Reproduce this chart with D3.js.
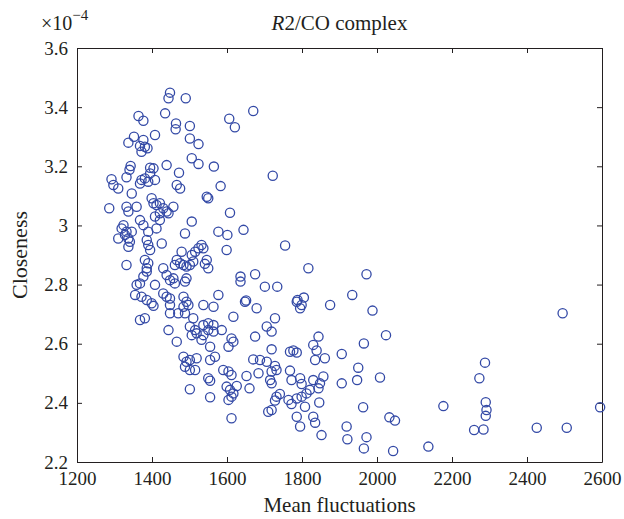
<!DOCTYPE html>
<html>
<head>
<meta charset="utf-8">
<script src="https://cdn.jsdelivr.net/npm/d3@7"></script>
<style>
  body { margin: 0; background: #fff; }
  text { font-family: "Liberation Serif", "DejaVu Serif", serif; fill: #231f20; }
  .axis path, .axis line { stroke: #231f20; stroke-width: 1; }
</style>
</head>
<body>
<div id="chart"></div>
<script>
  // Mean fluctuations (x) and closeness (y, in units of 1e-4)
  var fluct = [
    1448,1444,1490,1435,1364,1377,1464,1463,1501,1408,1352,1337,1377,1368,1381,1388,1372,1501,1524,1506,
    1524,1439,1343,1340,1395,1404,1472,1292,1297,1310,1332,1368,1372,1381,1390,1395,1408,1346,1466,1475,
    1286,1332,1337,1359,1399,1404,1412,1421,1430,1439,1421,1444,1457,1408,1421,1506,1488,1368,1377,1324,
    1319,1332,1346,1328,1337,1341,1337,1310,1390,1412,1386,1390,1395,1426,1332,1381,1390,1386,1386,1377,
    1479,1506,1515,1524,1466,1475,1484,1492,1501,1510,1461,1430,1359,1368,1408,1439,1448,1457,1461,1492,
    1488,1355,1372,1386,1399,1430,1439,1448,1484,1492,1404,1448,1484,1497,1368,1381,1448,1470,1488,1510,
    1444,1466,1501,1506,1519,1515,1484,1492,1501,1519,1488,1501,1515,1501,1537,1564,1648,1679,1786,1799,
    1795,1875,1617,1728,1706,1719,1537,1550,1564,1550,1564,1586,1537,1532,1612,1617,1604,1675,1555,1719,
    1568,1555,1670,1688,1706,1728,1732,1719,1768,1777,1786,1844,1830,1839,1835,1861,1590,1604,1612,1652,
    1684,1768,1715,1719,1550,1555,1599,1608,1617,1626,1612,1604,1660,1555,1732,1741,1728,1719,1710,1772,
    1795,1799,1830,1848,1857,1844,1764,1772,1786,1799,1812,1808,1821,1846,1786,1795,1830,1835,1852,1612,
    1670,1606,1621,1565,1722,1583,1546,1550,1608,1577,1601,1644,1532,1537,1599,1755,1546,1550,1541,1675,
    1636,1636,1701,1734,1817,1577,1651,1788,1805,1972,1934,1988,2495,2024,1965,1906,2288,1950,2273,1947,
    2008,1906,1963,2177,2290,2292,2290,2595,1919,1921,1972,1965,2033,2048,2043,2137,2259,2284,2426,2506
  ];
  var closeness = [
    3.449,3.430,3.430,3.379,3.370,3.354,3.345,3.325,3.336,3.306,3.300,3.280,3.289,3.269,3.266,3.261,3.249,3.294,3.275,3.227,
    3.208,3.204,3.201,3.188,3.195,3.193,3.178,3.156,3.137,3.125,3.163,3.142,3.154,3.159,3.148,3.176,3.154,3.108,3.137,3.125,
    3.058,3.063,3.047,3.063,3.092,3.075,3.069,3.075,3.058,3.047,3.041,3.041,3.063,3.030,3.018,3.013,2.973,3.018,3.001,3.001,
    2.990,2.979,2.979,2.968,2.956,2.945,2.928,2.956,2.979,2.990,2.951,2.934,2.917,2.939,2.866,2.883,2.872,2.855,2.844,2.827,
    2.911,2.900,2.911,2.923,2.883,2.872,2.866,2.861,2.866,2.878,2.866,2.855,2.799,2.804,2.799,2.832,2.815,2.821,2.804,2.821,
    2.810,2.765,2.759,2.748,2.737,2.770,2.759,2.753,2.759,2.742,2.728,2.731,2.725,2.731,2.680,2.686,2.703,2.703,2.703,2.686,
    2.646,2.607,2.658,2.629,2.635,2.646,2.556,2.539,2.545,2.551,2.522,2.511,2.511,2.446,2.731,2.725,2.742,2.720,2.742,2.731,
    2.720,2.731,2.691,2.686,2.658,2.641,2.663,2.669,2.663,2.646,2.641,2.646,2.629,2.613,2.618,2.607,2.590,2.624,2.590,2.581,
    2.556,2.545,2.547,2.545,2.539,2.525,2.511,2.506,2.573,2.577,2.570,2.624,2.596,2.577,2.545,2.551,2.511,2.506,2.494,2.491,
    2.500,2.509,2.477,2.466,2.483,2.475,2.455,2.444,2.432,2.457,2.421,2.410,2.449,2.419,2.421,2.430,2.408,2.376,2.370,2.477,
    2.483,2.464,2.477,2.466,2.489,2.449,2.410,2.396,2.415,2.421,2.432,2.387,2.444,2.401,2.353,2.320,2.353,2.333,2.291,2.348,
    3.387,3.361,3.332,3.199,3.168,3.133,3.097,3.092,3.043,2.979,2.968,2.985,2.934,2.923,2.917,2.932,2.883,2.855,2.870,2.835,
    2.827,2.810,2.793,2.793,2.855,2.765,2.746,2.748,2.756,2.835,2.765,2.712,2.703,2.629,2.601,2.565,2.536,2.519,2.483,2.477,
    2.486,2.466,2.385,2.389,2.402,2.376,2.356,2.385,2.320,2.277,2.284,2.246,2.351,2.340,2.237,2.252,2.308,2.310,2.316,2.316
  ];
  var xTicks = [1200, 1400, 1600, 1800, 2000, 2200, 2400, 2600];
  var yTicks = [2.2, 2.4, 2.6, 2.8, 3, 3.2, 3.4, 3.6];
  var yTickLabels = ["2.2", "2.4", "2.6", "2.8", "3", "3.2", "3.4", "3.6"];

  var width = 624, height = 519;
  var margin = {top: 48, right: 22, bottom: 57, left: 77};
  var innerW = width - margin.left - margin.right;
  var innerH = height - margin.top - margin.bottom;

  var svg = d3.select("#chart").append("svg")
      .attr("width", width)
      .attr("height", height);

  var g = svg.append("g")
      .attr("transform", `translate(${margin.left}, ${margin.top})`);

  var xScale = d3.scaleLinear().domain([1200, 2600]).range([0, innerW]);
  var yScale = d3.scaleLinear().domain([2.2, 3.6]).range([innerH, 0]);

  // bottom + left axes with labels, ticks pointing inwards
  g.append("g")
      .attr("class", "axis")
      .attr("transform", `translate(0, ${innerH})`)
      .call(d3.axisBottom(xScale).tickValues(xTicks).tickSizeInner(-5).tickSizeOuter(0).tickPadding(10)
        .tickFormat(d3.format("d")))
      .selectAll("text")
      .attr("font-size", "19px");

  g.append("g")
      .attr("class", "axis")
      .call(d3.axisLeft(yScale).tickValues(yTicks).tickSizeInner(-5).tickSizeOuter(0).tickPadding(9)
        .tickFormat(function(d, i) { return yTickLabels[i]; }))
      .selectAll("text")
      .attr("font-size", "19px");

  // top + right axes, ticks only (box)
  g.append("g")
      .attr("class", "axis")
      .call(d3.axisTop(xScale).tickValues(xTicks).tickSizeInner(-5).tickSizeOuter(0).tickFormat(""));

  g.append("g")
      .attr("class", "axis")
      .attr("transform", `translate(${innerW}, 0)`)
      .call(d3.axisRight(yScale).tickValues(yTicks).tickSizeInner(-5).tickSizeOuter(0).tickFormat(""));

  // Draw points
  var pts = d3.range(fluct.length).map(function(i) { return {x: fluct[i], y: closeness[i]}; });

  g.selectAll(".pt")
      .data(pts)
      .enter().append("circle")
      .attr("class", "pt")
      .attr("cx", d => xScale(d.x))
      .attr("cy", d => yScale(d.y))
      .attr("r", 4.6)
      .attr("fill", "none")
      .attr("stroke", "#3349a6")
      .attr("stroke-width", 1.3);

  // Labels
  svg.append("text")
      .attr("x", margin.left + innerW / 2)
      .attr("y", 512)
      .attr("text-anchor", "middle")
      .attr("font-size", "21px")
      .text("Mean fluctuations");

  svg.append("text")
      .attr("transform", `translate(27, ${margin.top + innerH / 2}) rotate(-90)`)
      .attr("text-anchor", "middle")
      .attr("font-size", "22px")
      .text("Closeness");

  var title = svg.append("text")
      .attr("x", margin.left + innerW / 2)
      .attr("y", 30)
      .attr("text-anchor", "middle")
      .attr("font-size", "21px");
  title.append("tspan").attr("font-style", "italic").text("R");
  title.append("tspan").text("2/CO complex");

  var expo = svg.append("text")
      .attr("x", 41)
      .attr("y", 30)
      .attr("font-size", "20px");
  expo.append("tspan").text("\u00d710");
  expo.append("tspan").attr("dy", -10).attr("font-size", "15px").text("\u22124");
</script>
</body>
</html>
